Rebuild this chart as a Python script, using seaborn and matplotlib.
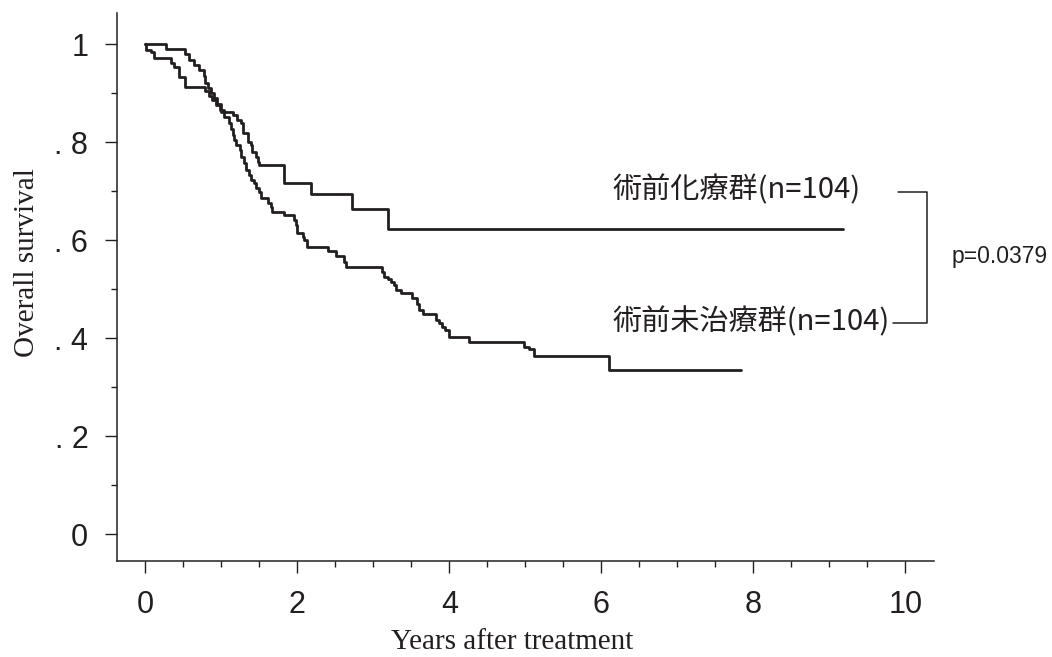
import pandas as pd
import matplotlib
matplotlib.use("Agg")
import matplotlib.pyplot as plt
from matplotlib.ticker import MultipleLocator, FixedLocator
import seaborn as sns

# Kaplan-Meier step points (time of step, survival after step)
neo_years = [0, 0.27, 0.52, 0.58, 0.64, 0.71, 0.77, 0.79, 0.83, 0.87,
             0.91, 0.95, 1.00, 1.15, 1.21, 1.26, 1.28, 1.35, 1.39, 1.41,
             1.46, 1.48, 1.50, 1.82, 2.18, 2.72, 3.19, 9.18]
neo_surv = [1.0, 0.989, 0.979, 0.968, 0.958, 0.946, 0.934, 0.92, 0.91, 0.90,
            0.89, 0.878, 0.862, 0.855, 0.845, 0.838, 0.818, 0.80, 0.793, 0.78,
            0.77, 0.76, 0.753, 0.717, 0.694, 0.664, 0.623, 0.623]

upfront_years = [0, 0.01, 0.07, 0.11, 0.34, 0.38, 0.45, 0.52,
                 0.79, 0.84, 0.88, 0.93, 0.98, 1.04, 1.10, 1.13, 1.15, 1.17,
                 1.19, 1.24, 1.26, 1.30, 1.32, 1.37, 1.39, 1.43, 1.46, 1.50,
                 1.52, 1.61, 1.65, 1.67, 1.83, 1.96, 1.98, 2.00, 2.07, 2.09,
                 2.13, 2.40, 2.51, 2.62, 2.64, 3.12, 3.14, 3.19, 3.23, 3.27,
                 3.30, 3.36, 3.51, 3.58, 3.60, 3.65, 3.82, 3.86, 3.91, 3.95,
                 3.99, 4.00, 4.26, 4.98, 5.05, 5.11, 6.10, 7.84]
upfront_surv = [1.0, 0.988, 0.983, 0.971, 0.961, 0.954, 0.933, 0.913,
                0.904, 0.894, 0.885, 0.875, 0.865, 0.852, 0.838, 0.827, 0.815, 0.804,
                0.794, 0.784, 0.770, 0.757, 0.743, 0.733, 0.722, 0.716, 0.706, 0.699,
                0.685, 0.675, 0.667, 0.658, 0.651, 0.640, 0.631, 0.614, 0.607, 0.600,
                0.586, 0.577, 0.567, 0.556, 0.546, 0.535, 0.525, 0.520, 0.515, 0.508,
                0.498, 0.492, 0.481, 0.470, 0.457, 0.450, 0.437, 0.430, 0.423, 0.416,
                0.410, 0.403, 0.392, 0.382, 0.378, 0.363, 0.335, 0.335]

group_labels = ["術前化療群(n=104)", "術前未治療群(n=104)"]
p_text = "p=0.0379"
x_ticks = [0, 2, 4, 6, 8, 10]
x_ticklabels = ["0", "2", "4", "6", "8", "10"]
y_ticks = [0, 0.2, 0.4, 0.6, 0.8, 1.0]
y_ticklabels = ["0", ". 2", ". 4", ". 6", ". 8", "1"]

INK = "#231f20"
CJK = ["Noto Sans CJK JP", "DejaVu Sans"]
NARROW = ["Liberation Sans Narrow", "Liberation Sans", "DejaVu Sans"]


def main():
    df = pd.concat([
        pd.DataFrame({"years": neo_years, "survival": neo_surv,
                      "group": group_labels[0]}),
        pd.DataFrame({"years": upfront_years, "survival": upfront_surv,
                      "group": group_labels[1]}),
    ])

    sns.set_theme(style="ticks")
    plt.rcParams["font.family"] = NARROW

    fig = plt.figure(figsize=(10.52, 6.57), dpi=100)
    ax = fig.add_axes([0.1112, 0.146, 0.7768, 0.834])

    sns.lineplot(data=df, x="years", y="survival", hue="group",
                 palette=[INK, INK], estimator=None, legend=False,
                 drawstyle="steps-post", linewidth=2.0, ax=ax)

    ax.set_xlim(-0.372, 10.38)
    ax.set_ylim(-0.055, 1.063)
    sns.despine(ax=ax)
    for side in ("left", "bottom"):
        ax.spines[side].set_linewidth(1.1)
        ax.spines[side].set_color(INK)

    ax.xaxis.set_major_locator(FixedLocator(x_ticks))
    ax.set_xticklabels(x_ticklabels)
    ax.xaxis.set_minor_locator(MultipleLocator(0.5))
    ax.yaxis.set_major_locator(FixedLocator(y_ticks))
    ax.set_yticklabels(y_ticklabels)
    ax.yaxis.set_minor_locator(MultipleLocator(0.1))
    ax.tick_params(which="major", length=8.6, width=1.0, color=INK,
                   labelsize=22, labelcolor=INK, pad=12)
    ax.tick_params(which="minor", length=4.5, width=1.0, color=INK)

    ax.set_xlabel("Years after treatment", family="Liberation Serif",
                  fontsize=21, color=INK)
    ax.set_ylabel("Overall survival", family="Liberation Serif",
                  fontsize=21, color=INK)
    ax.xaxis.set_label_coords(0.483, -0.124)
    ax.yaxis.set_label_coords(-0.094, 0.544)

    # group labels and the bracket joining them
    ax.text(6.15, 0.702, group_labels[0], family=CJK, fontsize=21,
            color=INK, ha="left", va="center")
    ax.text(6.15, 0.433, group_labels[1], family=CJK, fontsize=21,
            color=INK, ha="left", va="center")
    ax.plot([9.90, 10.28, 10.28, 9.84], [0.699, 0.699, 0.430, 0.430],
            color=INK, linewidth=1.1, clip_on=False)
    fig.text(0.905, 0.609, p_text, family="Liberation Sans", fontsize=16.5,
             color=INK, ha="left", va="center")

    fig.savefig("out.png", dpi=100)


if __name__ == "__main__":
    main()
